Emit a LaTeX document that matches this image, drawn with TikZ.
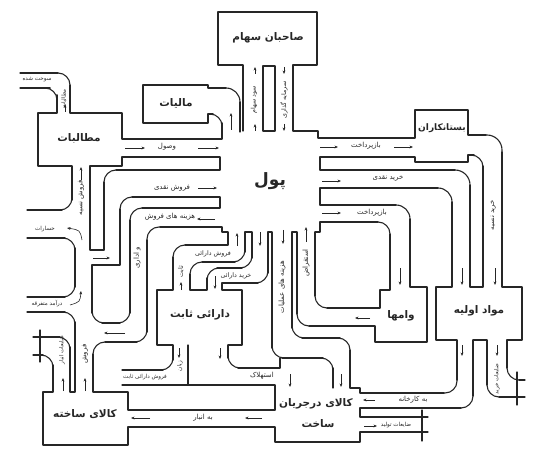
\documentclass[tikz,border=0pt]{standalone}
\usepackage{fontspec}
\usetikzlibrary{arrows.meta}
\newfontfamily\arb[Script=Arabic]{DejaVu Sans}
\TeXXeTstate=1
\newcommand\bx[1]{{\arb\bfseries\fontsize{10.5}{12}\selectfont\beginR #1\endR}}
\newcommand\sm[1]{{\arb\fontsize{7}{8}\selectfont\beginR #1\endR}}
\newcommand\md[1]{{\arb\fontsize{6.3}{7}\selectfont\beginR #1\endR}}
\newcommand\tn[1]{{\arb\fontsize{5.6}{6}\selectfont\beginR #1\endR}}
\begin{document}
\begin{tikzpicture}[x=1pt,y=-1pt,
  wall/.style={line width=1.1pt,line cap=round,line join=round,draw=black!85},
  rw/.style={wall,rounded corners=12pt},
  arr/.style={-{Stealth[length=3.5pt,width=2.8pt]},line width=0.6pt,draw=black!85},
  lab/.style={inner sep=0pt,text=black!85}]
\useasboundingbox (0,0) rectangle (538,465);
% ---- shareholders, creditors, raw materials right side
\draw[wall] (243,131) -- (243,65) -- (218,65) -- (218,12) -- (317,12) -- (317,65) -- (293,65) -- (293,131) -- (318,131) -- (318,138) -- (415,138) -- (415,110) -- (468,110) -- (468,135) -- (486,135);
\draw[rw,rounded corners=15pt] (486,135) -- (502,135) -- (502,152);
\draw[wall] (502,152) -- (502,287) -- (522,287) -- (522,340) -- (507,340) -- (507,368);
\draw[rw] (507,368) -- (507,380) -- (519,380);
\draw[wall] (519,380) -- (525,380);
\draw[wall] (263,66) rectangle (275,131);
% ---- block between repayment and cash purchase
\draw[wall] (320,170) -- (320,157) -- (415,157) -- (415,162) -- (468,162) -- (468,155) -- (474,155);
\draw[rw] (474,155) -- (483,155) -- (483,166);
\draw[wall] (483,166) -- (483,287) -- (470,287) -- (470,185);
\draw[rw,rounded corners=15pt] (470,185) -- (470,170) -- (455,170);
\draw[wall] (455,170) -- (320,170);
% ---- big block
\draw[wall] (320,205) -- (320,188) -- (438,188);
\draw[rw,rounded corners=14pt] (438,188) -- (452,188) -- (452,202);
\draw[wall] (452,202) -- (452,287) -- (436,287) -- (436,340) -- (457,340) -- (457,380);
\draw[rw] (457,380) -- (457,393) -- (444,393);
\draw[wall] (444,393) -- (360,393) -- (360,388) -- (350,388) -- (350,350);
\draw[rw] (350,350) -- (350,338) -- (340,338);
\draw[wall] (340,338) -- (302,338);
\draw[rw] (302,338) -- (292,338) -- (292,328);
\draw[wall] (292,328) -- (292,232) -- (297,232) -- (297,314);
\draw[rw] (297,314) -- (297,326) -- (309,326);
\draw[wall] (309,326) -- (375,326) -- (375,342) -- (427,342) -- (427,287) -- (410,287) -- (410,219);
\draw[rw,rounded corners=14pt] (410,219) -- (410,205) -- (396,205);
\draw[wall] (396,205) -- (320,205);
% ---- loans block
\draw[wall] (315,232) -- (320,232) -- (320,222) -- (378,222);
\draw[rw] (378,222) -- (390,222) -- (390,234);
\draw[wall] (390,234) -- (390,290) -- (380,290) -- (380,308) -- (327,308);
\draw[rw] (327,308) -- (315,308) -- (315,296);
\draw[wall] (315,296) -- (315,232);
% ---- raw material outlets
\draw[wall] (473,340) -- (487,340) -- (487,385);
\draw[rw] (487,385) -- (487,397) -- (499,397);
\draw[wall] (499,397) -- (525,397);
\draw[wall] (517,372) -- (517,405);
\draw[wall] (473,340) -- (473,396);
\draw[rw] (473,396) -- (473,408) -- (461,408);
\draw[wall] (461,408) -- (360,408) -- (360,417) -- (428,417);
\draw[wall] (428,432) -- (360,432) -- (360,442) -- (275,442) -- (275,427) -- (128,427) -- (128,445) -- (43,445) -- (43,392) -- (53,392) -- (53,365);
\draw[rw] (53,365) -- (53,355) -- (43,355);
\draw[wall] (43,355) -- (33,355);
\draw[wall] (422,410) -- (422,441);
\draw[wall] (40,330) -- (40,362);
% ---- WIP top, depreciation, fixed assets
\draw[wall] (275,410) -- (128,410) -- (128,392) -- (93,392) -- (93,354);
\draw[rw] (93,354) -- (93,342) -- (105,342);
\draw[wall] (105,342) -- (137,342);
\draw[rw] (137,342) -- (147,342) -- (147,332);
\draw[wall] (147,332) -- (147,240);
\draw[rw] (147,240) -- (147,227) -- (160,227);
\draw[wall] (160,227) -- (222,227) -- (222,232) -- (228,232) -- (228,245) -- (185,245);
\draw[rw] (185,245) -- (173,245) -- (173,257);
\draw[wall] (173,257) -- (173,290) -- (157,290) -- (157,345) -- (173,345) -- (173,360);
\draw[rw] (173,360) -- (173,370) -- (163,370);
\draw[wall] (163,370) -- (122,370);
\draw[wall] (122,385) -- (275,385) -- (275,410);
\draw[wall] (188,345) -- (188,385);
\draw[wall] (228,345) -- (228,358);
\draw[rw] (228,358) -- (228,368) -- (238,368);
\draw[wall] (238,368) -- (280,368) -- (280,358);
\draw[wall] (228,345) -- (242,345) -- (242,290) -- (222,290) -- (222,283) -- (258,283);
\draw[rw] (258,283) -- (268,283) -- (268,273);
\draw[wall] (268,273) -- (268,232) -- (272,232) -- (272,348);
\draw[rw] (272,348) -- (272,358) -- (282,358);
\draw[wall] (282,358) -- (323,358);
\draw[rw] (323,358) -- (333,358) -- (333,368);
\draw[wall] (333,368) -- (333,388);
% ---- asset sale / purchase partition
\draw[wall] (190,290) -- (190,274);
\draw[rw] (190,274) -- (190,262) -- (202,262);
\draw[wall] (202,262) -- (235,262);
\draw[rw] (235,262) -- (245,262) -- (245,252);
\draw[wall] (245,252) -- (245,232) -- (252,232) -- (252,258);
\draw[rw] (252,258) -- (252,268) -- (242,268);
\draw[wall] (242,268) -- (217,268);
\draw[rw] (217,268) -- (207,268) -- (207,278);
\draw[wall] (207,278) -- (207,290) -- (190,290);
% ---- receivables, taxes
\draw[wall] (20,73) -- (58,73);
\draw[rw] (58,73) -- (70,73) -- (70,85);
\draw[wall] (70,85) -- (70,113) -- (122,113) -- (122,139) -- (222,139) -- (222,123);
\draw[rw] (222,123) -- (222,114) -- (213,114);
\draw[wall] (213,114) -- (208,114) -- (208,123) -- (143,123) -- (143,85) -- (208,85) -- (208,88) -- (226,88);
\draw[rw,rounded corners=14pt] (226,88) -- (240,88) -- (240,102);
\draw[wall] (240,102) -- (240,132);
\draw[wall] (20,88) -- (50,88);
\draw[rw] (50,88) -- (57,88) -- (57,95);
\draw[wall] (57,95) -- (57,113) -- (38,113) -- (38,166) -- (72,166) -- (72,200);
\draw[rw] (72,200) -- (72,210) -- (62,210);
\draw[wall] (62,210) -- (27,210);
% ---- left blocks
\draw[wall] (104,250) -- (90,250) -- (90,166) -- (122,166) -- (122,157) -- (220,157) -- (220,170) -- (116,170);
\draw[rw] (116,170) -- (104,170) -- (104,182);
\draw[wall] (104,182) -- (104,250);
\draw[wall] (92,305) -- (92,265) -- (120,265) -- (120,209);
\draw[rw] (120,209) -- (120,197) -- (132,197);
\draw[wall] (132,197) -- (220,197) -- (220,208) -- (142,208);
\draw[rw] (142,208) -- (130,208) -- (130,220);
\draw[wall] (130,220) -- (130,313);
\draw[rw] (130,313) -- (130,323) -- (120,323);
\draw[wall] (120,323) -- (102,323);
\draw[rw] (102,323) -- (92,323) -- (92,313);
\draw[wall] (92,313) -- (92,305);
\draw[wall] (27,238) -- (65,238);
\draw[rw] (65,238) -- (75,238) -- (75,248);
\draw[wall] (75,248) -- (75,287);
\draw[rw] (75,287) -- (75,297) -- (65,297);
\draw[wall] (65,297) -- (27,297);
\draw[wall] (27,312) -- (65,312);
\draw[rw] (65,312) -- (75,312) -- (75,322);
\draw[wall] (75,322) -- (75,392) -- (70,392) -- (70,347);
\draw[rw] (70,347) -- (70,337) -- (60,337);
\draw[wall] (60,337) -- (33,337);
% ---- box labels
\node[lab] (b1) at (268,38) {\bx{صاحبان سهام}};
\node[lab] (b2) at (176,103) {\bx{مالیات}};
\node[lab] (b3) at (79,138) {\bx{مطالبات}};
\node[lab] (b4) at (442,128) {{\arb\bfseries\fontsize{9}{10}\selectfont\beginR بستانکاران\endR}};
\node[lab] (b5) at (270,181) {{\arb\bfseries\fontsize{17}{18}\selectfont\beginR پول\endR}};
\node[lab] (b6) at (401,316) {\bx{وامها}};
\node[lab] (b7) at (479,311) {\bx{مواد اولیه}};
\node[lab] (b8) at (200,315) {\bx{دارائی ثابت}};
\node[lab] (b9) at (316,404) {\bx{کالای درجریان}};
\node[lab] (b10) at (318,424) {\bx{ساخت}};
\node[lab] (b11) at (85,414) {\bx{کالای ساخته}};
% ---- flow labels
\node[lab,rotate=90] (l1) at (254,100) {\md{سود سهام}};
\node[lab,rotate=90] (l2) at (284,100) {\md{سرمایه گذاری}};
\node[lab] (l3) at (167,147) {\sm{وصول}};
\node[lab] (l4) at (366,146) {\sm{بازپرداخت}};
\node[lab] (l5) at (388,178) {\sm{خرید نقدی}};
\node[lab] (l6) at (372,213) {\sm{بازپرداخت}};
\node[lab,rotate=90] (l7) at (493,215) {\sm{خرید نسیه}};
\node[lab] (l8) at (172,188) {\sm{فروش نقدی}};
\node[lab] (l9) at (170,217) {\sm{هزینه های فروش}};
\node[lab,rotate=90] (l10) at (137,258) {\sm{و اداری}};
\node[lab] (l11) at (213,254) {\md{فروش دارائی}};
\node[lab,rotate=90] (l12) at (181,272) {\md{ثابت}};
\node[lab] (l13) at (236,276) {\md{خرید دارائی}};
\node[lab,rotate=90] (l14) at (282,287) {\sm{هزینه های عملیات}};
\node[lab,rotate=90] (l15) at (306,263) {\sm{استقراض}};
\node[lab,rotate=90] (l16) at (81,198) {\sm{فروش نسیه}};
\node[lab] (l17) at (45,229) {\tn{خسارات}};
\node[lab] (l18) at (47,304) {\tn{درآمد متفرقه}};
\node[lab] (l19) at (37,80) {\tn{سوخت شده}};
\node[lab,rotate=90] (l20) at (64,99) {\tn{مطالبات}};
\node[lab,rotate=90] (l21) at (85,354) {\sm{فروش}};
\node[lab,rotate=90] (l22) at (62,350) {\tn{ضایعات انبار}};
\node[lab] (l23) at (145,377) {\tn{فروش دارائی ثابت}};
\node[lab,rotate=90] (l24) at (180,366) {\tn{زیان}};
\node[lab] (l25) at (262,376) {\sm{استهلاک}};
\node[lab] (l26) at (203,418) {\sm{به انبار}};
\node[lab] (l27) at (413,400) {\sm{به کارخانه}};
\node[lab] (l28) at (396,425) {\tn{ضایعات تولید}};
\node[lab,rotate=90] (l29) at (497,379) {\tn{ضایعات خرید}};
% ---- arrows
\draw[arr] (255,131) -- (255,124);
\draw[arr] (255,74) -- (255,67);
\draw[arr] (284,67) -- (284,74);
\draw[arr] (284,124) -- (284,131);
\draw[arr] (231,130) -- (231,113);
\draw[arr] (125,148) -- (145,148);
\draw[arr] (198,148) -- (219,148);
\draw[arr] (320,147) -- (338,147);
\draw[arr] (394,147) -- (413,147);
\draw[arr] (495,268) -- (495,285);
\draw[arr] (322,181) -- (341,181);
\draw[arr] (462,268) -- (462,285);
\draw[arr] (322,213) -- (341,213);
\draw[arr] (400,268) -- (400,285);
\draw[arr] (306,242) -- (306,227);
\draw[arr] (370,318) -- (355,318);
\draw[arr] (283,230) -- (283,244);
\draw[arr] (341,374) -- (341,387);
\draw[arr] (260,232) -- (260,246);
\draw[arr] (215,276) -- (215,289);
\draw[arr] (237,246) -- (237,233);
\draw[arr] (181,290) -- (181,282);
\draw[arr] (215,219) -- (197,219);
\draw[arr] (125,333) -- (104,333);
\draw[arr] (198,188) -- (217,188);
\draw[arr] (93,258) -- (110,258);
\draw[arr] (81,180) -- (81,167);
\draw[arr] (82,240) .. controls (80,230) .. (67,228);
\draw[arr] (70,305) .. controls (80,302) .. (81,291);
\draw[arr] (65,112) -- (65,104);
\draw[arr] (63,391) -- (63,378);
\draw[arr] (85,391) -- (85,378);
\draw[arr] (179,348) -- (179,358);
\draw[arr] (220,348) -- (220,359);
\draw[arr] (290,374) -- (290,387);
\draw[arr] (150,418) -- (131,418);
\draw[arr] (262,418) -- (245,418);
\draw[arr] (375,400) -- (363,400);
\draw[arr] (364,426) -- (377,426);
\draw[arr] (462,345) -- (462,356);
\draw[arr] (497,345) -- (497,356);
\end{tikzpicture}
\end{document}
